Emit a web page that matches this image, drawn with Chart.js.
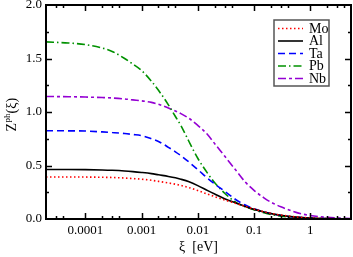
<!DOCTYPE html>
<html lang="en">
<head>
<meta charset="UTF-8">
<title>Zph(xi)</title>
<script src="https://cdn.jsdelivr.net/npm/chart.js@4"></script>
<style>
  body { margin: 0; background: #fff; }
  canvas { display: block; }
</style>
</head>
<body>
<canvas id="zChart" width="353" height="257"></canvas>
<script>
const xiValues = [2e-5, 5e-5, 1e-4, 2e-4, 3e-4, 5e-4, 7e-4, 1e-3, 1.5e-3, 2e-3, 3e-3, 4e-3, 5e-3, 7e-3, 0.01, 0.015, 0.02, 0.03, 0.05, 0.07, 0.1, 0.15, 0.2, 0.3, 0.5, 0.7, 1, 2, 5.3];

const zMo = [0.393, 0.393, 0.392, 0.390, 0.388, 0.383, 0.378, 0.372, 0.362, 0.352, 0.337, 0.325, 0.314, 0.293, 0.266, 0.232, 0.209, 0.178, 0.142, 0.118, 0.093, 0.068, 0.053, 0.037, 0.022, 0.015, 0.010, 0.004, 0.001];
const zAl = [0.462, 0.462, 0.461, 0.458, 0.455, 0.449, 0.443, 0.435, 0.424, 0.413, 0.398, 0.385, 0.372, 0.348, 0.312, 0.265, 0.233, 0.190, 0.145, 0.116, 0.090, 0.065, 0.050, 0.035, 0.020, 0.014, 0.009, 0.004, 0.001];
const zTa = [0.825, 0.824, 0.822, 0.814, 0.808, 0.799, 0.790, 0.779, 0.750, 0.725, 0.670, 0.628, 0.592, 0.531, 0.462, 0.380, 0.328, 0.260, 0.173, 0.130, 0.095, 0.066, 0.050, 0.033, 0.019, 0.013, 0.008, 0.003, 0.000];
const zPb = [1.655, 1.645, 1.630, 1.598, 1.566, 1.500, 1.448, 1.388, 1.287, 1.203, 1.067, 0.958, 0.874, 0.722, 0.568, 0.426, 0.339, 0.241, 0.148, 0.115, 0.086, 0.058, 0.042, 0.027, 0.015, 0.010, 0.006, 0.002, 0.000];
const zNb = [1.145, 1.143, 1.140, 1.135, 1.131, 1.122, 1.113, 1.104, 1.090, 1.072, 1.038, 1.010, 0.985, 0.940, 0.875, 0.787, 0.704, 0.588, 0.441, 0.345, 0.268, 0.198, 0.157, 0.114, 0.071, 0.048, 0.033, 0.015, 0.005];

const xTickValues = [1e-4, 1e-3, 1e-2, 0.1, 1];
const xTickLabels = ['0.0001', '0.001', '0.01', '0.1', '1'];
const yTickValues = [0, 0.5, 1.0, 1.5, 2.0];

const SERIF = '"Liberation Serif", "Times New Roman", serif';

function pts(ys) {
    return xiValues.map((x, i) => ({ x: x, y: ys[i] }));
}

// frame plus inward ticks on all four sides, like the original plot
const frameTicks = {
    id: 'frameTicks',
    afterDatasetsDraw(chart) {
        const { ctx, chartArea: a, scales: { x, y } } = chart;
        ctx.save();
        ctx.strokeStyle = '#000';
        ctx.lineWidth = 1.5;
        ctx.beginPath();
        // x: decades are major, 2,3,4 are minor
        for (let e = -5; e <= 0; e++) {
            [1, 2, 3, 4].forEach(m => {
                const v = m * Math.pow(10, e);
                if (v <= x.min || v >= x.max) return;
                const px = Math.round(x.getPixelForValue(v)) + 0.5;
                const len = m === 1 ? 6 : 3;
                ctx.moveTo(px, a.bottom); ctx.lineTo(px, a.bottom - len);
                ctx.moveTo(px, a.top); ctx.lineTo(px, a.top + len);
            });
        }
        for (let v = 0.25; v < 2; v += 0.25) {
            const py = Math.round(y.getPixelForValue(v)) + 0.5;
            const len = (v * 2) % 1 === 0 ? 6 : 3;
            ctx.moveTo(a.left, py); ctx.lineTo(a.left + len, py);
            ctx.moveTo(a.right, py); ctx.lineTo(a.right - len, py);
        }
        ctx.stroke();
        ctx.lineWidth = 2;
        ctx.strokeRect(a.left, a.top, a.right - a.left, a.bottom - a.top);
        ctx.restore();
    }
};

// boxed legend inside the plot + the y title with superscript
const extras = {
    id: 'extras',
    afterDraw(chart) {
        const ctx = chart.ctx;
        const a = chart.chartArea;
        ctx.save();
        const bx = a.right - 77, by = a.top + 15, bw = 55, bh = 66;
        ctx.fillStyle = '#fff';
        ctx.fillRect(bx, by, bw, bh);
        ctx.strokeStyle = '#555';
        ctx.lineWidth = 1.5;
        ctx.strokeRect(bx, by, bw, bh);
        ctx.font = '14px ' + SERIF;
        ctx.textBaseline = 'middle';
        chart.data.datasets.forEach((ds, i) => {
            const yy = by + 8.5 + i * 12.5;
            ctx.strokeStyle = ds.borderColor;
            ctx.lineWidth = ds.borderWidth;
            ctx.setLineDash(ds.borderDash || []);
            ctx.beginPath();
            ctx.moveTo(bx + 4, yy);
            ctx.lineTo(bx + 29, yy);
            ctx.stroke();
            ctx.setLineDash([]);
            ctx.fillStyle = '#000';
            ctx.fillText(ds.label, bx + 35, yy + 0.5);
        });

        // y title: Z^ph(ξ)
        ctx.translate(11, (a.top + a.bottom) / 2 + 3);
        ctx.rotate(-Math.PI / 2);
        ctx.fillStyle = '#000';
        ctx.textBaseline = 'alphabetic';
        const big = '14px ' + SERIF, small = '9px ' + SERIF;
        ctx.font = big; const wZ = ctx.measureText('Z').width; const wP = ctx.measureText('(ξ)').width;
        ctx.font = small; const wS = ctx.measureText('ph').width;
        let tx = -(wZ + wS + wP) / 2;
        ctx.font = big; ctx.fillText('Z', tx, 5); tx += wZ + 0.5;
        ctx.font = small; ctx.fillText('ph', tx, -1); tx += wS;
        ctx.font = big; ctx.fillText('(ξ)', tx, 5);
        ctx.restore();
    }
};

new Chart(document.getElementById('zChart'), {
    type: 'line',
    data: {
        datasets: [
            { label: 'Mo', data: pts(zMo), borderColor: '#ff0000', borderWidth: 1.6, borderDash: [1.5, 2.5] },
            { label: 'Al', data: pts(zAl), borderColor: '#000000', borderWidth: 1.6 },
            { label: 'Ta', data: pts(zTa), borderColor: '#0000ff', borderWidth: 1.6, borderDash: [7, 4] },
            { label: 'Pb', data: pts(zPb), borderColor: '#009100', borderWidth: 1.6, borderDash: [8, 3, 1.5, 3] },
            { label: 'Nb', data: pts(zNb), borderColor: '#9400d3', borderWidth: 1.6, borderDash: [8, 3, 3, 3] }
        ]
    },
    options: {
        responsive: false,
        animation: false,
        layout: { padding: { left: 0, right: 2, top: 5, bottom: 0 } },
        elements: {
            point: { radius: 0 },
            line: { cubicInterpolationMode: 'monotone', fill: false }
        },
        plugins: { legend: { display: false }, tooltip: { enabled: false } },
        scales: {
            x: {
                type: 'logarithmic',
                min: 2e-5,
                max: 5.3,
                grid: { display: false, drawTicks: false },
                border: { display: false },
                afterBuildTicks: s => { s.ticks = xTickValues.map(v => ({ value: v })); },
                afterFit: s => { s.height = 38; s.paddingLeft = 0; s.paddingRight = 0; },
                ticks: {
                    autoSkip: false,
                    maxRotation: 0,
                    padding: 4,
                    color: '#000',
                    font: { family: SERIF, size: 13 },
                    callback: (v, i) => xTickLabels[i]
                },
                title: {
                    display: true,
                    text: 'ξ  [eV]',
                    color: '#000',
                    font: { family: SERIF, size: 14, lineHeight: 1 },
                    padding: { top: 0, bottom: 3 }
                }
            },
            y: {
                min: 0,
                max: 2,
                grid: { display: false, drawTicks: false },
                border: { display: false },
                afterBuildTicks: s => { s.ticks = yTickValues.map(v => ({ value: v })); },
                afterFit: s => { s.width = 46; s.paddingTop = 0; s.paddingBottom = 0; },
                ticks: {
                    padding: 4,
                    color: '#000',
                    font: { family: SERIF, size: 13 },
                    callback: v => v.toFixed(1)
                }
            }
        }
    },
    plugins: [frameTicks, extras]
});
</script>
</body>
</html>
